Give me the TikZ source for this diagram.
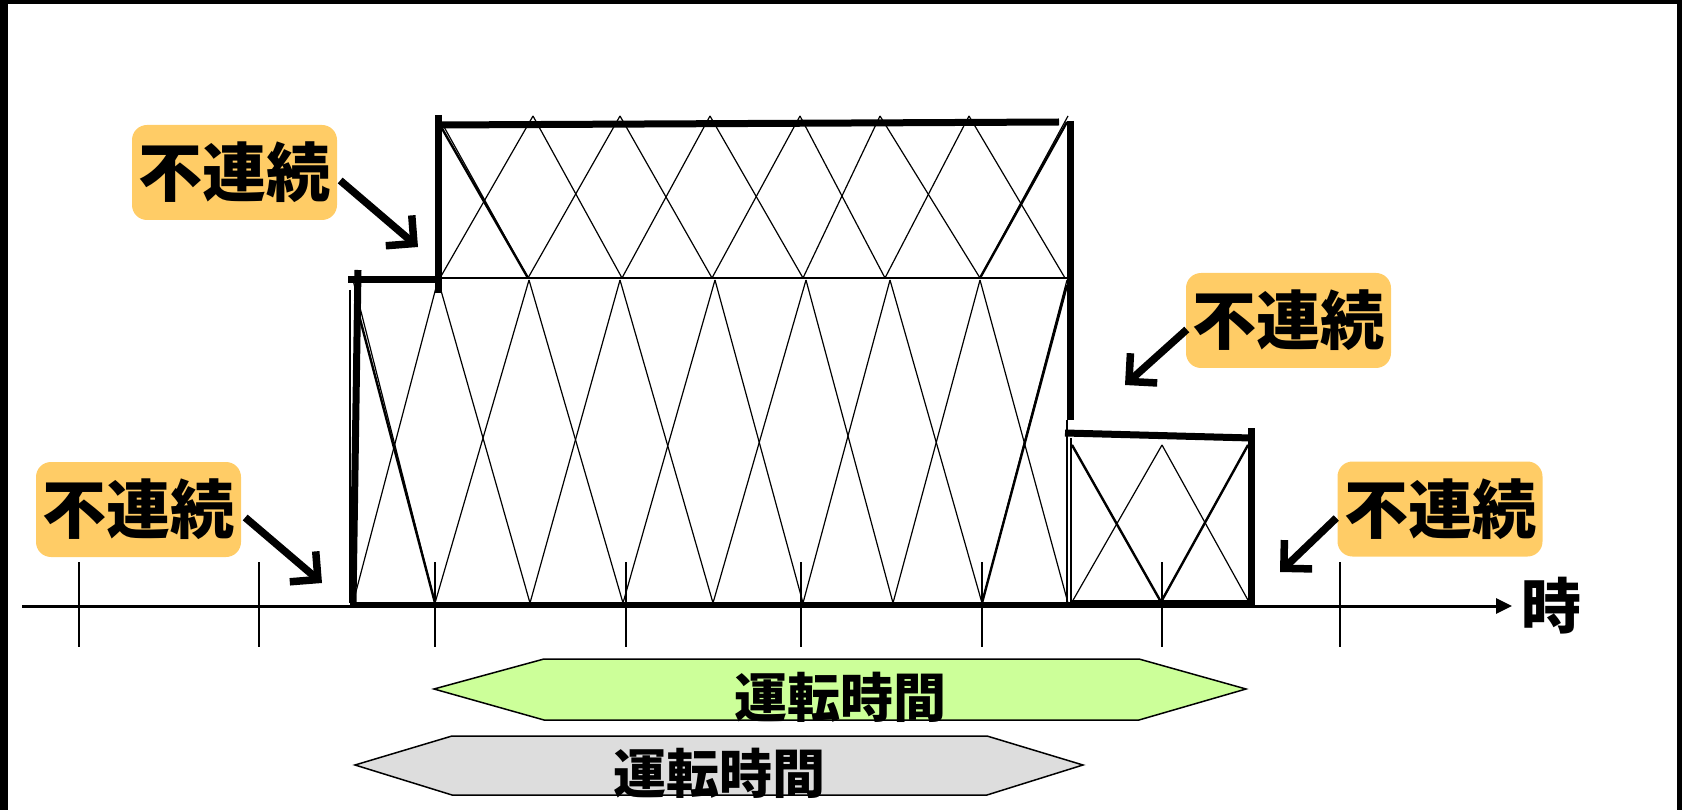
\documentclass[tikz,border=0pt]{standalone}
\usepackage{fontspec}
\newfontfamily\jp{Noto Sans CJK JP}
\usetikzlibrary{arrows.meta,calc}
\definecolor{labfill}{RGB}{255,204,102}
\definecolor{grnfill}{RGB}{204,255,153}
\definecolor{gryfill}{RGB}{221,221,221}
\begin{document}
\begin{tikzpicture}[x=1pt,y=-1pt,
  hatch/.style={line width=1.2pt},
  hatchthick/.style={line width=2.4pt},
  thk/.style={line width=7pt},
  lbl/.style={fill=labfill, rounded corners=15pt, minimum width=205pt, minimum height=95pt, inner sep=0pt,
    font={\jp\bfseries\fontsize{64pt}{64pt}\selectfont}},
  callout/.style={line width=7.5pt, -{Straight Barb[length=20pt,width=40pt]}},
  band/.style={draw=black, line width=1.5pt},
  bandtext/.style={inner sep=0pt, font={\jp\bfseries\fontsize{53pt}{53pt}\selectfont}},
  tick/.style={line width=2pt}]
\useasboundingbox (0,0) rectangle (1682,810);
% frame
\fill (0,0) rectangle (8,810);
\fill (0,0) rectangle (1682,4);
\fill (1677,0) rectangle (1682,810);

% upper hatch of tall block
\foreach \a/\b/\c/\d in {438/533/440/528,533/620/528/622,620/710/622/712,710/800/712/803,800/880/803/885,880/969/885/980,969/1068/980/1065}{
  \draw[hatch] (\a,116) -- (\d,278);
  \draw[hatch] (\b,116) -- (\c,278);
}
% lower hatch
\foreach \a/\b/\c/\d in {353/438/353/435,438/529/435/530,529/620/530/623,620/715/623/713,715/806/713/803,806/890/803/893,890/980/893/982,980/1067/982/1068}{
  \draw[hatch] (\a,280) -- (\d,603);
  \draw[hatch] (\b,280) -- (\c,603);
}
% small block hatch
\foreach \a/\b/\c/\d in {1072/1162/1072/1161,1162/1248/1161/1249}{
  \draw[hatch] (\a,445) -- (\d,602);
  \draw[hatch] (\b,445) -- (\c,602);
}
% thicker diagonals
\draw[hatchthick] (440,125) -- (528,278);
\draw[hatchthick] (1067,122) -- (980,278);
\draw[hatchthick] (355,300) -- (435,603);
\draw[hatchthick] (1067,285) -- (982,603);
\draw[hatchthick] (1072,445) -- (1161,602);
\draw[hatchthick] (1248,445) -- (1161,602);

% thin lines
\draw[line width=2pt] (438,278) -- (1068,278);
\draw[hatch] (350,290) -- (350,603);
\draw[hatch] (1067,420) -- (1067,605);
\draw[hatch] (1071,438) -- (1071,602);
\draw[hatch] (1071,601) -- (1249,601);

% ticks
\foreach \x in {79,259,435,626,801,982,1162,1340}{
  \draw[tick] (\x,562) -- (\x,647);
}

% axis
\coordinate (ax0) at (22,606);
\coordinate (ax1) at (1512,606);
\draw[line width=3pt, -{Triangle[length=16pt,width=15pt]}] (ax0) -- (ax1);
\node[inner sep=0pt, font={\jp\bfseries\fontsize{60pt}{60pt}\selectfont}] (tlab) at (1551,606) {時};

% thick outline
\draw[line width=5.5pt] (350,605) -- (1251,605);
\draw[thk] (348,280) -- (438,280);
\draw[thk] (358,270) -- (353,603);
\draw[thk] (438,115) -- (438,293);
\draw[thk] (438,125) -- (1059,122);
\draw[thk] (1070,121) -- (1070,420);
\draw[thk] (1065,433) -- (1251,438);
\draw[thk] (1251,428) -- (1251,605);

% labels
\node[lbl] (lab1) at (234.5,172.5) {不連続};
\node[lbl] (lab2) at (1288.5,320.5) {不連続};
\node[lbl] (lab3) at (138.5,509.5) {不連続};
\node[lbl] (lab4) at (1440,509) {不連続};

\coordinate (tip1) at (418,247);
\coordinate (tip2) at (1125,385);
\coordinate (tip3) at (322,583);
\coordinate (tip4) at (1280,572);
\draw[callout] ($(lab1.east)+(3,8)$) -- (tip1);
\draw[callout] ($(lab2.west)+(1,9)$) -- (tip2);
\draw[callout] ($(lab3.east)+(4,8)$) -- (tip3);
\draw[callout] ($(lab4.west)+(-1,9)$) -- (tip4);

% running-time bands
\draw[band, fill=grnfill] (434,689) -- (544,659) -- (1139,659) -- (1246,689) -- (1139,720) -- (544,720) -- cycle;
\node[bandtext] (rt1) at (840,697) {運転時間};
\draw[band, fill=gryfill] (355,765) -- (452,736) -- (987,736) -- (1083,765) -- (987,795) -- (452,795) -- cycle;
\node[bandtext] (rt2) at (719,773) {運転時間};
\end{tikzpicture}
\end{document}
